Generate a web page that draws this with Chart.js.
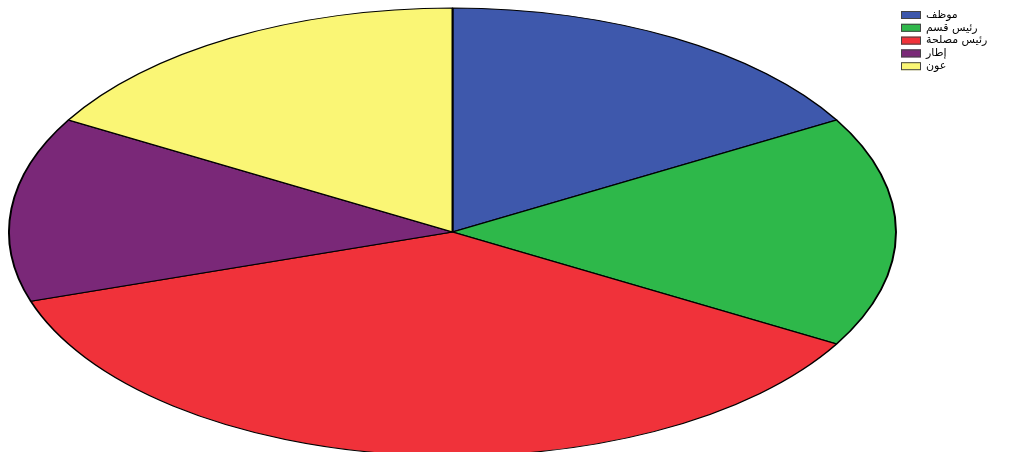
<!DOCTYPE html>
<html>
<head>
<meta charset="utf-8">
<script src="https://cdn.jsdelivr.net/npm/chart.js@4"></script>
<style>
  html, body { margin: 0; padding: 0; background: #fff; }
  #wrap { width: 1022px; height: 452px; }
</style>
</head>
<body>
<div id="wrap"><canvas id="pieChart" width="1022" height="452"></canvas></div>
<script>
const labels = ["موظف", "رئيس قسم", "رئيس مصلحة", "إطار", "عون"];
const counts = [5, 5, 11, 4, 5];
const colors = ["#3e58ac", "#2eb84a", "#f0323a", "#7a2878", "#faf675"];

// the reference pie is stretched into an ellipse
const target = { x: 452.5, y: 232, rx: 443.5, ry: 224 };

const stretchPie = {
  id: "stretchPie",
  beforeDatasetsDraw(chart) {
    const arc = chart.getDatasetMeta(0).data[0];
    const r = arc.outerRadius;
    const ctx = chart.ctx;
    ctx.save();
    ctx.translate(target.x, target.y);
    ctx.scale(target.rx / r, target.ry / r);
    ctx.translate(-arc.x, -arc.y);
  },
  afterDatasetsDraw(chart) {
    chart.ctx.restore();
  },
};

const sideLegend = {
  id: "sideLegend",
  afterDraw(chart) {
    const ctx = chart.ctx;
    ctx.save();
    ctx.font = "11px 'DejaVu Sans', sans-serif";
    ctx.textBaseline = "middle";
    ctx.textAlign = "left";
    labels.forEach((lab, i) => {
      const y = 11 + i * 12.8;
      ctx.fillStyle = colors[i];
      ctx.fillRect(901, y, 20, 8);
      ctx.strokeStyle = "#444";
      ctx.lineWidth = 1;
      ctx.strokeRect(901.5, y + 0.5, 19, 7);
      ctx.fillStyle = "#000";
      ctx.fillText(lab, 926, y + 4);
    });
    ctx.restore();
  },
};

new Chart(document.getElementById("pieChart").getContext("2d"), {
  type: "pie",
  data: {
    labels: labels,
    datasets: [
      {
        data: counts,
        backgroundColor: colors,
        borderColor: "#000",
        borderWidth: 1,
      },
    ],
  },
  options: {
    responsive: false,
    animation: false,
    layout: { padding: 0 },
    plugins: {
      legend: { display: false },
      tooltip: { enabled: false },
    },
  },
  plugins: [stretchPie, sideLegend],
});
</script>
</body>
</html>
